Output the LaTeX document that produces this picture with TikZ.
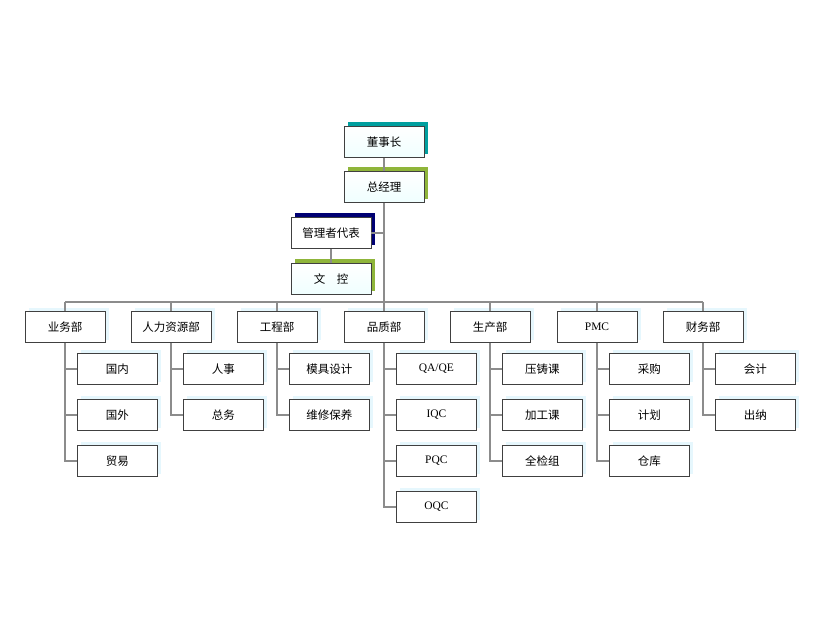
\documentclass[tikz,border=0pt]{standalone}
\usepackage{fontspec}
\newfontfamily\cjk{Noto Sans CJK SC}
\setmainfont{Liberation Serif}
\begin{document}
\begin{tikzpicture}[x=1pt,y=-1pt,
  box/.style={draw=black!75,line width=0.8pt,fill=white,minimum width=80pt,minimum height=31pt,inner sep=0pt,font=\cjk\fontsize{11.5}{13}\selectfont},
  topbox/.style={box,top color=white,bottom color=cyan!6},
  ln/.style={draw=black!45,line width=2.4pt}]
\useasboundingbox (0,0) rectangle (826,631);
\newcommand\shbox[3]{\fill[#3] (#1-36,#2-20) rectangle (#1+44,#2+12);}
\colorlet{tealsh}{teal!75!cyan}
\colorlet{grsh}{yellow!60!green!80!black}
% top chain
\shbox{384}{142}{tealsh}
\node[topbox] (dsz) at (384,142) {董事长};
\shbox{384}{187}{grsh}
\node[topbox] (zjl) at (384,187) {总经理};
\shbox{331}{233}{blue!45!black}
\node[box] (gld) at (331,233) {管理者代表};
\shbox{331}{279}{grsh}
\node[topbox] (wk) at (331,279) {文\quad 控};
\coordinate (bar) at (384,302);
\draw[ln] (dsz.south) -- (zjl.north);
\draw[ln] (zjl.south) -- (bar);
\draw[ln] (gld.east) -- (gld.east -| bar);
\draw[ln] (gld.south) -- (wk.north);
\coordinate (bl) at (65,302);
\coordinate (br) at (703,302);
\draw[ln] (bl) -- (br);
% departments
\foreach \n/\cx/\t in {d1/65/业务部,d2/171/人力资源部,d3/277/工程部,d4/384/品质部,d5/490/生产部,d6/597/{\rmfamily PMC},d7/703/财务部}{
  \fill[cyan!10] (\cx-36,308) rectangle (\cx+44,340);
  \node[box] (\n) at (\cx,327) {\t};
  \draw[ln] (\cx,302) -- (\n.north);
}
% children
\newcommand\kids[3]{%
 \foreach \t [count=\i] in {#3}{
  \pgfmathsetmacro\cy{323+46*\i}
  \fill[cyan!10] (#2+16,\cy-19) rectangle (#2+96,\cy+13);
  \node[box,anchor=west] (#1c\i) at (#2+12,\cy) {\t};
  \draw[ln] (#1.south) |- (#1c\i.west);
 }}
\kids{d1}{65}{国内,国外,贸易}
\kids{d2}{171}{人事,总务}
\kids{d3}{277}{模具设计,维修保养}
\kids{d4}{384}{{\rmfamily QA/QE},{\rmfamily IQC},{\rmfamily PQC},{\rmfamily OQC}}
\kids{d5}{490}{压铸课,加工课,全检组}
\kids{d6}{597}{采购,计划,仓库}
\kids{d7}{703}{会计,出纳}
\end{tikzpicture}
\end{document}
